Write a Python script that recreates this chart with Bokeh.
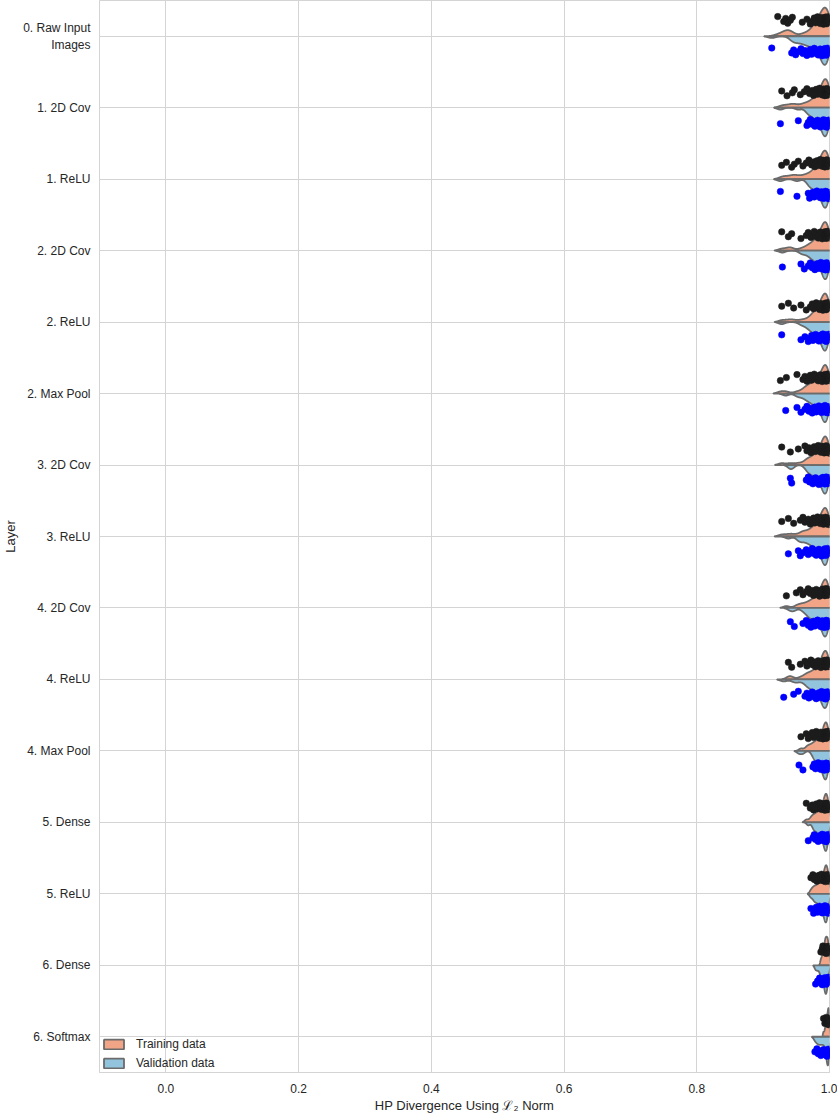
import numpy as np
from bokeh.plotting import figure
from bokeh.models import Range1d, FixedTicker, PrintfTickFormatter, Legend, LegendItem
from bokeh.embed import file_html
from bokeh.resources import INLINE

layers = ["0. Raw Input\nImages", "1. 2D Cov", "1. ReLU", "2. 2D Cov", "2. ReLU", "2. Max Pool",
          "3. 2D Cov", "3. ReLU", "4. 2D Cov", "4. ReLU", "4. Max Pool", "5. Dense", "5. ReLU",
          "6. Dense", "6. Softmax"]
x_ticks = [0.0, 0.2, 0.4, 0.6, 0.8, 1.0]

train_0 = [0.922, 0.931, 0.934, 0.937, 0.941, 0.944, 0.959, 0.966, 0.971, 0.975, 0.977, 0.979, 0.980, 0.982, 0.983, 0.984, 0.986, 0.987, 0.988, 0.989, 0.990, 0.991, 0.992, 0.993, 0.993, 0.994, 0.994, 0.995, 0.995, 0.996, 0.996, 0.997, 0.997, 0.998, 0.998, 0.999, 1.000]
val_0 = [0.913, 0.943, 0.946, 0.949, 0.953, 0.957, 0.960, 0.963, 0.966, 0.968, 0.971, 0.973, 0.975, 0.977, 0.979, 0.981, 0.983, 0.984, 0.986, 0.987, 0.988, 0.989, 0.990, 0.991, 0.992, 0.993, 0.993, 0.994, 0.994, 0.995, 0.995, 0.996, 0.996, 0.997, 0.997, 0.998, 0.999]
train_1 = [0.928, 0.936, 0.944, 0.947, 0.956, 0.962, 0.966, 0.970, 0.974, 0.976, 0.978, 0.980, 0.982, 0.984, 0.985, 0.987, 0.988, 0.989, 0.990, 0.991, 0.992, 0.993, 0.993, 0.994, 0.994, 0.995, 0.995, 0.996, 0.996, 0.997, 0.997, 0.998, 0.998, 0.999, 1.000]
val_1 = [0.926, 0.953, 0.966, 0.968, 0.971, 0.974, 0.976, 0.978, 0.980, 0.982, 0.983, 0.985, 0.986, 0.987, 0.988, 0.989, 0.990, 0.991, 0.992, 0.993, 0.993, 0.994, 0.994, 0.995, 0.995, 0.996, 0.996, 0.997, 0.997, 0.998, 0.999]
train_2 = [0.928, 0.935, 0.943, 0.947, 0.953, 0.960, 0.965, 0.969, 0.973, 0.976, 0.978, 0.980, 0.981, 0.983, 0.985, 0.986, 0.987, 0.988, 0.989, 0.990, 0.991, 0.992, 0.993, 0.993, 0.994, 0.994, 0.995, 0.995, 0.996, 0.996, 0.997, 0.997, 0.998, 0.999, 1.000]
val_2 = [0.926, 0.951, 0.968, 0.970, 0.972, 0.975, 0.977, 0.979, 0.981, 0.983, 0.984, 0.986, 0.987, 0.988, 0.989, 0.990, 0.991, 0.992, 0.993, 0.993, 0.994, 0.994, 0.995, 0.995, 0.996, 0.996, 0.997, 0.997, 0.998, 0.999]
train_3 = [0.928, 0.938, 0.943, 0.957, 0.965, 0.968, 0.972, 0.975, 0.977, 0.979, 0.981, 0.983, 0.984, 0.986, 0.987, 0.988, 0.989, 0.990, 0.991, 0.992, 0.993, 0.993, 0.994, 0.994, 0.995, 0.995, 0.996, 0.996, 0.997, 0.997, 0.998, 0.999, 1.000]
val_3 = [0.929, 0.957, 0.962, 0.968, 0.971, 0.974, 0.976, 0.978, 0.980, 0.982, 0.984, 0.985, 0.987, 0.988, 0.989, 0.990, 0.991, 0.992, 0.993, 0.993, 0.994, 0.994, 0.995, 0.995, 0.996, 0.996, 0.997, 0.997, 0.998, 0.999]
train_4 = [0.928, 0.938, 0.946, 0.957, 0.965, 0.971, 0.974, 0.976, 0.978, 0.980, 0.982, 0.983, 0.985, 0.986, 0.987, 0.988, 0.989, 0.990, 0.991, 0.992, 0.993, 0.993, 0.994, 0.994, 0.995, 0.995, 0.996, 0.996, 0.997, 0.997, 0.998, 0.999, 1.000]
val_4 = [0.928, 0.957, 0.963, 0.968, 0.970, 0.973, 0.975, 0.977, 0.979, 0.981, 0.983, 0.984, 0.986, 0.987, 0.988, 0.989, 0.990, 0.991, 0.992, 0.993, 0.993, 0.994, 0.994, 0.995, 0.995, 0.996, 0.996, 0.997, 0.998, 0.999]
train_5 = [0.926, 0.935, 0.951, 0.960, 0.963, 0.966, 0.969, 0.971, 0.973, 0.975, 0.977, 0.979, 0.981, 0.983, 0.984, 0.986, 0.987, 0.988, 0.989, 0.990, 0.991, 0.992, 0.993, 0.993, 0.994, 0.994, 0.995, 0.995, 0.996, 0.996, 0.997, 0.997, 0.998, 0.999, 1.000]
val_5 = [0.934, 0.951, 0.957, 0.963, 0.966, 0.969, 0.972, 0.974, 0.976, 0.978, 0.980, 0.982, 0.984, 0.985, 0.987, 0.988, 0.989, 0.990, 0.991, 0.992, 0.993, 0.993, 0.994, 0.994, 0.995, 0.995, 0.996, 0.996, 0.997, 0.998, 0.999]
train_6 = [0.928, 0.941, 0.953, 0.963, 0.966, 0.969, 0.972, 0.975, 0.977, 0.979, 0.981, 0.983, 0.984, 0.986, 0.987, 0.988, 0.989, 0.990, 0.991, 0.992, 0.993, 0.993, 0.994, 0.994, 0.995, 0.995, 0.996, 0.996, 0.997, 0.997, 0.998, 0.999, 1.000]
val_6 = [0.941, 0.943, 0.965, 0.968, 0.970, 0.973, 0.975, 0.977, 0.979, 0.981, 0.983, 0.984, 0.986, 0.987, 0.988, 0.989, 0.990, 0.991, 0.992, 0.993, 0.993, 0.994, 0.994, 0.995, 0.995, 0.996, 0.996, 0.997, 0.998, 0.999]
train_7 = [0.928, 0.938, 0.946, 0.956, 0.960, 0.963, 0.968, 0.971, 0.974, 0.976, 0.978, 0.980, 0.982, 0.983, 0.985, 0.986, 0.987, 0.988, 0.989, 0.990, 0.991, 0.992, 0.993, 0.993, 0.994, 0.994, 0.995, 0.995, 0.996, 0.996, 0.997, 0.997, 0.998, 0.999, 1.000]
val_7 = [0.938, 0.953, 0.956, 0.960, 0.965, 0.968, 0.971, 0.974, 0.976, 0.978, 0.980, 0.982, 0.984, 0.985, 0.987, 0.988, 0.989, 0.990, 0.991, 0.992, 0.993, 0.993, 0.994, 0.994, 0.995, 0.995, 0.996, 0.996, 0.997, 0.998, 0.999]
train_8 = [0.935, 0.950, 0.956, 0.960, 0.965, 0.968, 0.971, 0.974, 0.976, 0.978, 0.980, 0.982, 0.983, 0.985, 0.986, 0.987, 0.988, 0.989, 0.990, 0.991, 0.992, 0.993, 0.993, 0.994, 0.994, 0.995, 0.995, 0.996, 0.996, 0.997, 0.997, 0.998, 0.999, 1.000]
val_8 = [0.941, 0.947, 0.960, 0.965, 0.968, 0.970, 0.972, 0.974, 0.976, 0.978, 0.980, 0.982, 0.984, 0.985, 0.987, 0.988, 0.989, 0.990, 0.991, 0.992, 0.993, 0.993, 0.994, 0.994, 0.995, 0.995, 0.996, 0.996, 0.997, 0.998, 0.999]
train_9 = [0.938, 0.943, 0.956, 0.963, 0.966, 0.969, 0.972, 0.975, 0.977, 0.979, 0.981, 0.983, 0.984, 0.986, 0.987, 0.988, 0.989, 0.990, 0.991, 0.992, 0.993, 0.993, 0.994, 0.994, 0.995, 0.995, 0.996, 0.996, 0.997, 0.997, 0.998, 0.999, 1.000]
val_9 = [0.931, 0.946, 0.953, 0.963, 0.966, 0.969, 0.972, 0.974, 0.976, 0.978, 0.980, 0.982, 0.984, 0.985, 0.987, 0.988, 0.989, 0.990, 0.991, 0.992, 0.993, 0.993, 0.994, 0.994, 0.995, 0.995, 0.996, 0.996, 0.997, 0.998, 0.999]
train_10 = [0.957, 0.965, 0.968, 0.971, 0.974, 0.976, 0.978, 0.980, 0.982, 0.983, 0.985, 0.986, 0.987, 0.988, 0.989, 0.990, 0.991, 0.992, 0.993, 0.993, 0.994, 0.994, 0.995, 0.995, 0.996, 0.996, 0.997, 0.997, 0.998, 0.999, 1.000]
val_10 = [0.954, 0.960, 0.975, 0.977, 0.979, 0.981, 0.983, 0.984, 0.986, 0.987, 0.988, 0.989, 0.990, 0.991, 0.992, 0.993, 0.993, 0.994, 0.994, 0.995, 0.995, 0.996, 0.996, 0.997, 0.998, 0.999]
train_11 = [0.965, 0.971, 0.974, 0.976, 0.978, 0.980, 0.982, 0.983, 0.985, 0.986, 0.987, 0.988, 0.989, 0.990, 0.991, 0.992, 0.993, 0.993, 0.994, 0.994, 0.995, 0.995, 0.996, 0.996, 0.997, 0.997, 0.998, 0.999, 1.000]
val_11 = [0.968, 0.975, 0.977, 0.979, 0.981, 0.983, 0.984, 0.986, 0.987, 0.988, 0.989, 0.990, 0.991, 0.992, 0.993, 0.993, 0.994, 0.994, 0.995, 0.995, 0.996, 0.996, 0.997, 0.998, 0.999]
train_12 = [0.972, 0.975, 0.977, 0.979, 0.981, 0.983, 0.984, 0.986, 0.987, 0.988, 0.989, 0.990, 0.991, 0.992, 0.993, 0.993, 0.994, 0.994, 0.995, 0.995, 0.996, 0.996, 0.997, 0.997, 0.998, 0.999, 1.000]
val_12 = [0.972, 0.976, 0.978, 0.980, 0.982, 0.984, 0.985, 0.987, 0.988, 0.989, 0.990, 0.991, 0.992, 0.993, 0.993, 0.994, 0.994, 0.995, 0.995, 0.996, 0.996, 0.997, 0.998, 0.999]
train_13 = [0.987, 0.989, 0.990, 0.991, 0.992, 0.993, 0.993, 0.994, 0.994, 0.995, 0.995, 0.996, 0.996, 0.997, 0.997, 0.998, 0.998, 0.999, 1.000]
val_13 = [0.979, 0.982, 0.985, 0.987, 0.988, 0.989, 0.990, 0.991, 0.992, 0.993, 0.993, 0.994, 0.994, 0.995, 0.995, 0.996, 0.996, 0.997, 0.998, 0.999]
train_14 = [0.991, 0.993, 0.994, 0.995, 0.996, 0.996, 0.997, 0.997, 0.998, 0.998, 0.998, 0.999, 0.999, 0.999, 1.000, 1.000]
val_14 = [0.978, 0.981, 0.983, 0.985, 0.987, 0.989, 0.991, 0.993, 0.995, 0.996, 0.997, 0.997, 0.997, 0.998, 0.998, 0.998, 0.998, 0.999, 0.999]

train_sets = [train_0, train_1, train_2, train_3, train_4, train_5, train_6, train_7,
              train_8, train_9, train_10, train_11, train_12, train_13, train_14]
val_sets = [val_0, val_1, val_2, val_3, val_4, val_5, val_6, val_7,
            val_8, val_9, val_10, val_11, val_12, val_13, val_14]

TRAIN_FILL = "#f2a586"
VAL_FILL = "#93c4de"
EDGE = "#6b6b6b"
GRID = "#d4d4d4"
TEXT = "#262626"
FONT = "Liberation Sans"


def half_violin(vals, width=0.4, cut=2.0, bw_adjust=0.6, n=400):
    v = np.asarray(vals, dtype=float)
    bw = v.std(ddof=1) * len(v) ** (-0.2) * bw_adjust
    grid = np.linspace(v.min() - cut * bw, v.max() + cut * bw, n)
    dens = np.exp(-0.5 * ((grid[:, None] - v[None, :]) / bw) ** 2).sum(axis=1)
    dens = dens / dens.max() * width
    return grid, dens


p = figure(x_range=Range1d(-0.1, 1.0), y_range=Range1d(14.5, -0.5),
           frame_width=730, frame_height=1072,
           output_backend="svg", toolbar_location=None,
           min_border_left=10, min_border_right=8, min_border_top=0, min_border_bottom=10)

tx, ty, vx, vy = [], [], [], []
for i, (tr, va) in enumerate(zip(train_sets, val_sets)):
    g, d = half_violin(tr)
    tx.append(np.concatenate([g, g[::-1]]))
    ty.append(np.concatenate([i - d, np.full(len(g), float(i))]))
    g, d = half_violin(va)
    vx.append(np.concatenate([g, g[::-1]]))
    vy.append(np.concatenate([i + d, np.full(len(g), float(i))]))

r_train = p.patches(tx, ty, fill_color=TRAIN_FILL, line_color=EDGE, line_width=1.8)
r_val = p.patches(vx, vy, fill_color=VAL_FILL, line_color=EDGE, line_width=1.8)

# strip points (deterministic jitter)
px_t, py_t, px_v, py_v = [], [], [], []
for i, (tr, va) in enumerate(zip(train_sets, val_sets)):
    for k, x in enumerate(tr):
        j = ((k * 0.6180339887 + i * 0.37) % 1.0) - 0.5
        px_t.append(x)
        py_t.append(i - 0.22 + 0.11 * j)
    for k, x in enumerate(va):
        j = ((k * 0.6180339887 + i * 0.53) % 1.0) - 0.5
        px_v.append(x)
        py_v.append(i + 0.22 + 0.11 * j)

p.scatter(px_t, py_t, size=6.5, fill_color="#1c1c1c", line_color="#1c1c1c", line_width=0.5)
p.scatter(px_v, py_v, size=6.5, fill_color="#0000ff", line_color="#0000ff", line_width=0.5)

legend = Legend(items=[LegendItem(label="Training data", renderers=[r_train]),
                       LegendItem(label="Validation data", renderers=[r_val])],
                location=(2, 2), padding=8, spacing=5, margin=0,
                glyph_width=25, glyph_height=12, label_standoff=10,
                label_text_font=FONT, label_text_font_size="12px", label_text_color=TEXT,
                label_height=12, background_fill_alpha=0, border_line_color=None)
p.add_layout(legend)

p.xaxis.ticker = FixedTicker(ticks=x_ticks)
p.xaxis.formatter = PrintfTickFormatter(format="%.1f")
p.yaxis.ticker = FixedTicker(ticks=list(range(len(layers))))
p.yaxis.major_label_overrides = {i: lab for i, lab in enumerate(layers)}

p.xaxis.axis_label = "HP Divergence Using \u2112\u2082 Norm"
p.yaxis.axis_label = "Layer"

for ax in (p.xaxis, p.yaxis):
    ax.axis_line_color = GRID
    ax.major_tick_line_color = None
    ax.minor_tick_line_color = None
    ax.major_label_text_font = FONT
    ax.major_label_text_font_size = "12px"
    ax.major_label_text_color = TEXT
    ax.axis_label_text_font = FONT
    ax.axis_label_text_font_size = "13px"
    ax.axis_label_text_font_style = "normal"
    ax.axis_label_text_color = TEXT
p.yaxis.major_label_standoff = 3
p.xaxis.major_label_standoff = 5
p.yaxis.axis_label_standoff = 2
p.xaxis.axis_label_standoff = 2

p.xgrid.grid_line_color = GRID
p.ygrid.grid_line_color = GRID
p.outline_line_color = GRID
p.background_fill_color = "white"
p.border_fill_color = "white"

open("out.html", "w").write(file_html(p, INLINE))
